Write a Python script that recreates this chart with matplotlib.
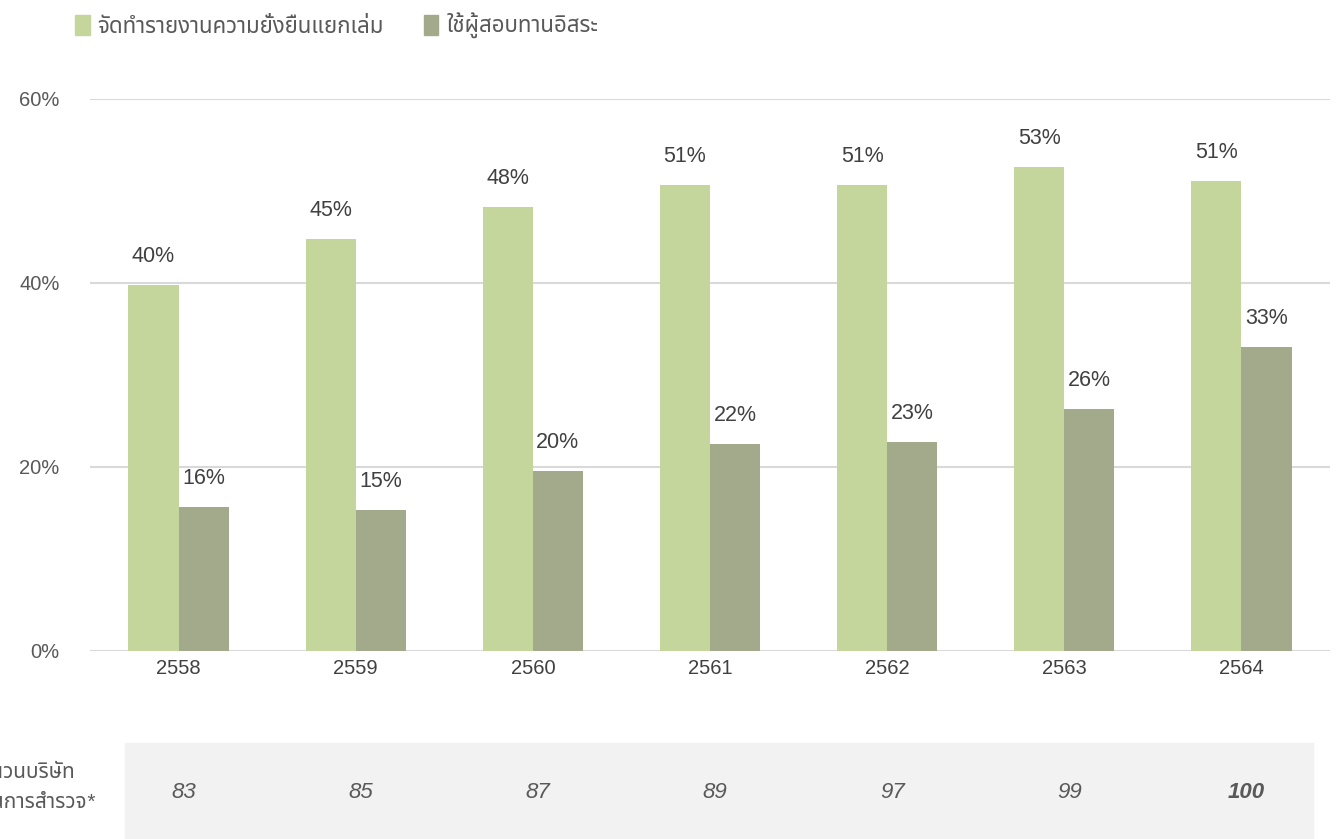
import matplotlib
matplotlib.use("Agg")
import matplotlib.pyplot as plt
import numpy as np
from matplotlib import font_manager
from matplotlib.patches import Patch, Rectangle

# ---- data ----
years = ["2558", "2559", "2560", "2561", "2562", "2563", "2564"]
report_pct = [39.8, 44.8, 48.3, 50.7, 50.7, 52.6, 51.1]
assurance_pct = [15.6, 15.3, 19.6, 22.5, 22.7, 26.3, 33.0]
report_labels = ["40%", "45%", "48%", "51%", "51%", "53%", "51%"]
assurance_labels = ["16%", "15%", "20%", "22%", "23%", "26%", "33%"]
companies = ["83", "85", "87", "89", "97", "99", "100"]
series_names = ["จัดทำรายงานความยั่งยืนแยกเล่ม", "ใช้ผู้สอบทานอิสระ"]
row_title = ["จำนวนบริษัท", "ในการสำรวจ*"]
y_ticks = [0, 20, 40, 60]


def find_thai_font():
    # look for any installed font that has Thai glyphs
    try:
        from fontTools.ttLib import TTFont
    except ImportError:
        return None
    found = []
    for f in font_manager.fontManager.ttflist:
        try:
            tt = TTFont(f.fname, fontNumber=0, lazy=True)
            if 0x0E08 in tt.getBestCmap():
                found.append(f.name)
        except Exception:
            pass
    prefer = ["Noto Sans Thai", "Noto Sans Thai Looped", "Sarabun", "Loma",
              "Garuda", "Tlwg Typo", "Kinnari", "Norasi"]
    for p in prefer:
        if p in found:
            return p
    return found[0] if found else None


thai = find_thai_font()
families = ["Liberation Sans"] + ([thai] if thai else []) + ["DejaVu Sans"]
plt.rcParams["font.family"] = families

c_light = "#c4d69b"
c_dark = "#a2aa8b"
txt = "#404040"

fig = plt.figure(figsize=(13.38, 8.39), dpi=100)
ax = fig.add_axes([90 / 1338, 1 - 651 / 839, 1240 / 1338, 552 / 839])

x = np.arange(len(years))
w = 0.283
b1 = ax.bar(x - w / 2, report_pct, w, color=c_light, zorder=3)
b2 = ax.bar(x + w / 2, assurance_pct, w, color=c_dark, zorder=3)

for xi, v, lab in zip(x - w / 2, report_pct, report_labels):
    ax.annotate(lab, (xi, v), xytext=(0, 13), textcoords="offset points",
                ha="center", va="bottom", fontsize=15.5, color=txt)
for xi, v, lab in zip(x + w / 2, assurance_pct, assurance_labels):
    ax.annotate(lab, (xi, v), xytext=(0, 13), textcoords="offset points",
                ha="center", va="bottom", fontsize=15.5, color=txt)

ax.set_xlim(-0.5, len(years) - 0.5)
ax.set_ylim(0, 60)
ax.set_yticks(y_ticks)
ax.set_yticklabels([f"{t}%" for t in y_ticks], fontsize=14.5, color="#595959")
ax.set_xticks(x)
ax.set_xticklabels(years, fontsize=14.5, color=txt)
ax.tick_params(length=0)
ax.tick_params(axis="y", pad=22)
ax.tick_params(axis="x", pad=6)
ax.grid(axis="y", color="#d9d9d9", lw=1.5, zorder=0)
for s in ax.spines.values():
    s.set_visible(False)

# legend
handles = [Patch(color=c_light), Patch(color=c_dark)]
fig.legend(handles, series_names, loc="upper left",
           bbox_to_anchor=(62 / 1338, 1 - 0 / 839), ncol=2, frameon=False,
           fontsize=16, handlelength=0.65, handleheight=1.0,
           handletextpad=0.35, columnspacing=1.8, labelcolor="#595959",
           borderpad=0.1)

# company count row
fig.patches.append(Rectangle((125 / 1338, 0), (1313 - 125) / 1338, 96 / 839,
                             transform=fig.transFigure, color="#f2f2f2",
                             zorder=0))
for xi, n in zip(x, companies):
    xf = ax.transData.transform((xi, 0))[0] / 1338
    fig.text(xf + 5 / 1338, 1 - 792 / 839, n, ha="center", va="center",
             fontsize=16, style="italic", color="#595959",
             weight="bold" if n == companies[-1] else "normal")
fig.text(75 / 1338, 1 - 773 / 839, row_title[0], ha="right", va="center",
         fontsize=15, style="italic", color="#595959")
fig.text(95 / 1338, 1 - 803 / 839, row_title[1], ha="right", va="center",
         fontsize=15, style="italic", color="#595959")

fig.savefig("out.png", dpi=100)
